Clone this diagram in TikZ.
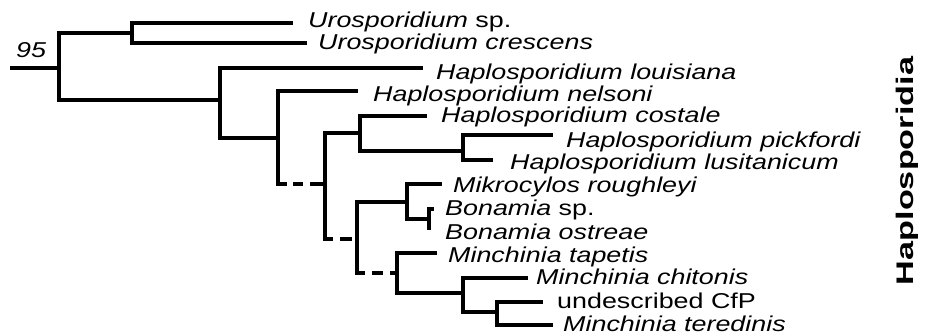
\documentclass[tikz,border=0pt]{standalone}
\usepackage{fontspec}
\newfontfamily\labfont[FakeStretch=1.25]{Liberation Sans}
\newfontfamily\cladefont[FakeStretch=1.425]{Liberation Sans}
\begin{document}
\begin{tikzpicture}[x=1pt,y=-1pt,
  br/.style={line width=3.2pt,line join=miter},
  lab/.style={anchor=base west,inner sep=0pt,font=\labfont\fontsize{21.5}{24}\selectfont},
  clade/.style={anchor=base,inner sep=0pt,rotate=90,font=\cladefont\bfseries\fontsize{24}{26}\selectfont}]
\useasboundingbox (0,0) rectangle (927,336);
% internal nodes
\coordinate (P0) at (10,68);
\coordinate (R) at (59,68);
\coordinate (A) at (132,33);
\coordinate (B) at (220,100);
\coordinate (C) at (278,138);
\coordinate (c1) at (278,184);
\coordinate (c1s) at (287,184);
\coordinate (D) at (325,184);
\coordinate (d2) at (325,239);
\coordinate (d2s) at (333,239);
\coordinate (E) at (360,133);
\coordinate (G) at (357,239);
\coordinate (g2) at (357,273);
\coordinate (g2s) at (365,273);
\coordinate (H) at (463,151);
\coordinate (I) at (407,202);
\coordinate (K) at (429,219);
\coordinate (J) at (397,273);
\coordinate (L) at (463,293);
\coordinate (M) at (497,312);
% leaf ends
\coordinate (l1) at (293,23);
\coordinate (l2) at (307,43);
\coordinate (l3) at (423,68);
\coordinate (l4) at (358,91);
\coordinate (l5) at (427,116);
\coordinate (l6) at (553,135);
\coordinate (l7) at (493,160);
\coordinate (l8) at (442,184);
\coordinate (l9) at (434,209);
\coordinate (l10) at (429,230);
\coordinate (l11) at (437,253);
\coordinate (l12) at (528,278);
\coordinate (l13) at (543,302);
\coordinate (l14) at (553,325);
% branches
\draw[br] (P0) -- (R);
\draw[br] (R) |- (A);
\draw[br] (R) |- (B);
\draw[br] (A) |- (l1);
\draw[br] (A) |- (l2);
\draw[br] (B) |- (l3);
\draw[br] (B) |- (C);
\draw[br] (C) |- (l4);
\draw[br] (C) -- (c1) -- (c1s);
\draw[br,dash pattern=on 0pt off 6pt on 10pt off 7pt on 15pt off 0pt] (c1s) -- (D);
\draw[br] (D) |- (E);
\draw[br] (D) -- (d2) -- (d2s);
\draw[br,dash pattern=on 0pt off 7pt on 12pt off 5pt] (d2s) -- (G);
\draw[br] (E) |- (l5);
\draw[br] (E) |- (H);
\draw[br] (H) |- (l6);
\draw[br] (H) |- (l7);
\draw[br] (G) |- (I);
\draw[br] (G) -- (g2) -- (g2s);
\draw[br,dash pattern=on 0pt off 7pt on 11pt off 7pt on 7pt off 0pt] (g2s) -- (J);
\draw[br] (I) |- (l8);
\draw[br] (I) |- (K);
\draw[br] (K) |- (l9);
\draw[br] (K) |- (l10);
\draw[br] (J) |- (l11);
\draw[br] (J) |- (L);
\draw[br] (L) |- (l12);
\draw[br] (L) |- (M);
\draw[br] (M) |- (l13);
\draw[br] (M) |- (l14);
% labels
\node[lab] (boot) at (16,58) {\itshape 95};
\node[lab] (t1) at (308,28) {\textit{Urosporidium} sp.};
\node[lab] (t2) at (318,50) {\textit{Urosporidium crescens}};
\node[lab] (t3) at (436,80) {\textit{Haplosporidium louisiana}};
\node[lab] (t4) at (373,102) {\textit{Haplosporidium nelsoni}};
\node[lab] (t5) at (441,123) {\textit{Haplosporidium costale}};
\node[lab] (t6) at (566,148) {\textit{Haplosporidium pickfordi}};
\node[lab] (t7) at (510,170) {\textit{Haplosporidium lusitanicum}};
\node[lab] (t8) at (453,193) {\textit{Mikrocylos roughleyi}};
\node[lab] (t9) at (445,216) {\textit{Bonamia} sp.};
\node[lab] (t10) at (445,240) {\textit{Bonamia ostreae}};
\node[lab] (t11) at (448,263) {\textit{Minchinia tapetis}};
\node[lab] (t12) at (536,285) {\textit{Minchinia chitonis}};
\node[lab] (t13) at (557,309) {undescribed CfP};
\node[lab] (t14) at (563,332) {\textit{Minchinia teredinis}};
\node[clade] (hap) at (913,171) {Haplosporidia};
\end{tikzpicture}
\end{document}
